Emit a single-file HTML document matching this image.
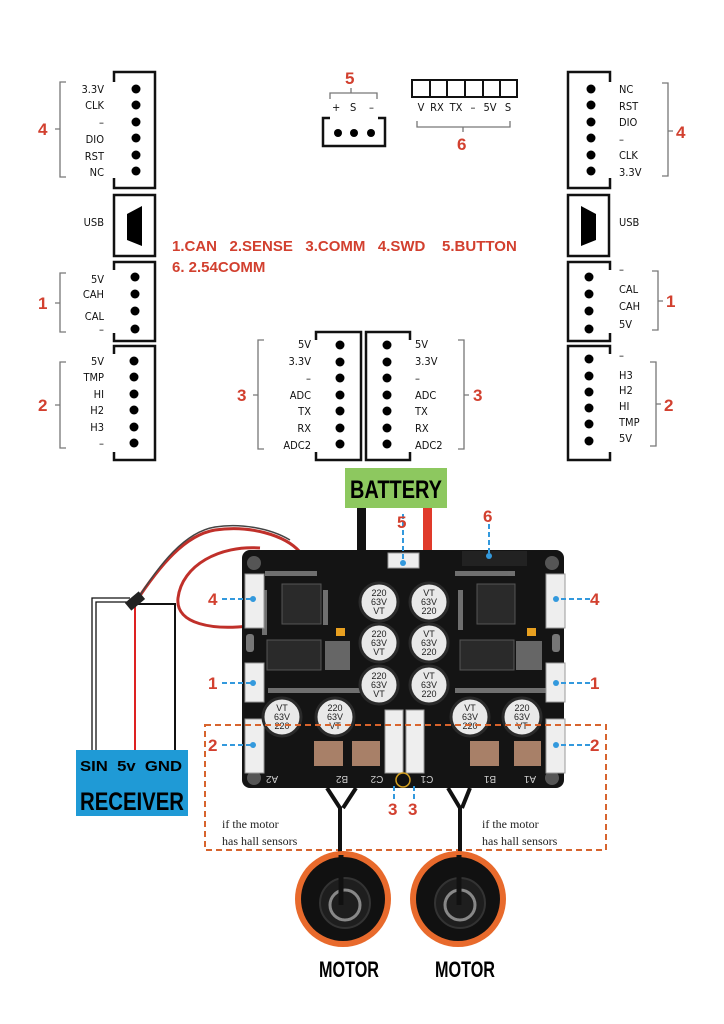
<!DOCTYPE html>
<html><head><meta charset="utf-8"><style>
body{margin:0;background:#fff}
svg{display:block}
.l{font-family:"DejaVu Sans Condensed","DejaVu Sans",sans-serif;font-size:11px;fill:#111}
.n{font-family:"Liberation Sans",sans-serif;font-weight:bold;font-size:17px;fill:#d2402f}
.t{font-family:"Liberation Sans",sans-serif;font-weight:bold;font-size:15px;fill:#d2402f}
.k{font-family:"Liberation Sans",sans-serif;font-weight:bold;fill:#000}
.bk{fill:none;stroke:#777;stroke-width:1.3}
.bx{fill:none;stroke:#111;stroke-width:2.5}
.cap{fill:#e9e9e9;stroke:#2a2a2a;stroke-width:3}
.ct{font-family:"Liberation Sans",sans-serif;font-size:9px;fill:#222}
.sk{font-family:"Liberation Sans",sans-serif;font-size:10px;fill:#ccc}
.bl{stroke:#3399dd;stroke-width:2;stroke-dasharray:5,3}
</style></head><body>
<svg width="724" height="1024" viewBox="0 0 724 1024" xmlns="http://www.w3.org/2000/svg">
<!-- LEFT connector 4 -->
<path class="bx" d="M114,82V72H155V188H114V178"/>
<g fill="#000"><circle cx="136" cy="89" r="4.5"/><circle cx="136" cy="105" r="4.5"/><circle cx="136" cy="122" r="4.5"/><circle cx="136" cy="138" r="4.5"/><circle cx="136" cy="155" r="4.5"/><circle cx="136" cy="171" r="4.5"/></g>
<g class="l" text-anchor="end"><text x="104" y="93">3.3V</text><text x="104" y="109">CLK</text><text x="104" y="126">–</text><text x="104" y="143">DIO</text><text x="104" y="160">RST</text><text x="104" y="176">NC</text></g>
<path class="bk" d="M66,82H60V177H66M60,129H55"/><text class="n" x="38" y="135">4</text>
<!-- USB -->
<rect class="bx" x="114" y="195" width="41" height="61"/><path d="M127,214L142,206V246L127,240Z" fill="#000"/>
<text class="l" x="104" y="226" text-anchor="end">USB</text>
<!-- LEFT 1 -->
<path class="bx" d="M114,270V262H155V341H114V333"/>
<g fill="#000"><circle cx="135" cy="277" r="4.5"/><circle cx="135" cy="294" r="4.5"/><circle cx="135" cy="311" r="4.5"/><circle cx="135" cy="329" r="4.5"/></g>
<g class="l" text-anchor="end"><text x="104" y="283">5V</text><text x="104" y="298">CAH</text><text x="104" y="320">CAL</text><text x="104" y="333">–</text></g>
<path class="bk" d="M66,273H60V332H66M60,303H55"/><text class="n" x="38" y="309">1</text>
<!-- LEFT 2 -->
<path class="bx" d="M114,354V346H155V460H114V452"/>
<g fill="#000"><circle cx="134" cy="361" r="4.5"/><circle cx="134" cy="377" r="4.5"/><circle cx="134" cy="394" r="4.5"/><circle cx="134" cy="410" r="4.5"/><circle cx="134" cy="427" r="4.5"/><circle cx="134" cy="443" r="4.5"/></g>
<g class="l" text-anchor="end"><text x="104" y="365">5V</text><text x="104" y="381">TMP</text><text x="104" y="398">HI</text><text x="104" y="414">H2</text><text x="104" y="431">H3</text><text x="104" y="447">–</text></g>
<path class="bk" d="M66,362H60V448H66M60,405H55"/><text class="n" x="38" y="411">2</text>
<!-- Center 3 left -->
<path class="bx" d="M316,340V332H361V460H316V452"/>
<g fill="#000"><circle cx="340" cy="345" r="4.5"/><circle cx="340" cy="362" r="4.5"/><circle cx="340" cy="378" r="4.5"/><circle cx="340" cy="395" r="4.5"/><circle cx="340" cy="411" r="4.5"/><circle cx="340" cy="428" r="4.5"/><circle cx="340" cy="444" r="4.5"/></g>
<g class="l" text-anchor="end"><text x="311" y="348">5V</text><text x="311" y="365">3.3V</text><text x="311" y="382">–</text><text x="311" y="399">ADC</text><text x="311" y="415">TX</text><text x="311" y="432">RX</text><text x="311" y="449">ADC2</text></g>
<path class="bk" d="M264,340H258V449H264M258,395H253"/><text class="n" x="237" y="401">3</text>
<!-- Center 3 right -->
<path class="bx" d="M410,340V332H366V460H410V452"/>
<g fill="#000"><circle cx="387" cy="345" r="4.5"/><circle cx="387" cy="362" r="4.5"/><circle cx="387" cy="378" r="4.5"/><circle cx="387" cy="395" r="4.5"/><circle cx="387" cy="411" r="4.5"/><circle cx="387" cy="428" r="4.5"/><circle cx="387" cy="444" r="4.5"/></g>
<g class="l"><text x="415" y="348">5V</text><text x="415" y="365">3.3V</text><text x="415" y="382">–</text><text x="415" y="399">ADC</text><text x="415" y="415">TX</text><text x="415" y="432">RX</text><text x="415" y="449">ADC2</text></g>
<path class="bk" d="M458,340H464V449H458M464,395H469"/><text class="n" x="473" y="401">3</text>
<!-- RIGHT 4 -->
<path class="bx" d="M610,82V72H568V188H610V178"/>
<g fill="#000"><circle cx="591" cy="89" r="4.5"/><circle cx="591" cy="105" r="4.5"/><circle cx="591" cy="122" r="4.5"/><circle cx="591" cy="138" r="4.5"/><circle cx="591" cy="155" r="4.5"/><circle cx="591" cy="171" r="4.5"/></g>
<g class="l"><text x="619" y="93">NC</text><text x="619" y="110">RST</text><text x="619" y="126">DIO</text><text x="619" y="143">–</text><text x="619" y="159">CLK</text><text x="619" y="176">3.3V</text></g>
<path class="bk" d="M662,83H668V176H662M668,131H673"/><text class="n" x="676" y="138">4</text>
<rect class="bx" x="568" y="195" width="41" height="61"/><path d="M581,206L596,214V240L581,246Z" fill="#000"/>
<text class="l" x="619" y="226">USB</text>
<!-- RIGHT 1 -->
<path class="bx" d="M610,270V262H568V341H610V333"/>
<g fill="#000"><circle cx="589" cy="277" r="4.5"/><circle cx="589" cy="294" r="4.5"/><circle cx="589" cy="311" r="4.5"/><circle cx="589" cy="329" r="4.5"/></g>
<g class="l"><text x="619" y="273">–</text><text x="619" y="293">CAL</text><text x="619" y="310">CAH</text><text x="619" y="328">5V</text></g>
<path class="bk" d="M652,271H658V330H652M658,301H663"/><text class="n" x="666" y="307">1</text>
<!-- RIGHT 2 -->
<path class="bx" d="M610,354V346H568V460H610V452"/>
<g fill="#000"><circle cx="589" cy="359" r="4.5"/><circle cx="589" cy="376" r="4.5"/><circle cx="589" cy="392" r="4.5"/><circle cx="589" cy="408" r="4.5"/><circle cx="589" cy="424" r="4.5"/><circle cx="589" cy="441" r="4.5"/></g>
<g class="l"><text x="619" y="359">–</text><text x="619" y="379">H3</text><text x="619" y="394">H2</text><text x="619" y="410">HI</text><text x="619" y="426">TMP</text><text x="619" y="442">5V</text></g>
<path class="bk" d="M650,362H656V446H650M656,404H661"/><text class="n" x="664" y="411">2</text>
<!-- 5 -->
<text class="n" x="345" y="84">5</text><path class="bk" d="M330,99V93H377V99M351,93V88"/>
<g class="l"><text x="332" y="111">+</text><text x="350" y="111">S</text><text x="369" y="111">–</text></g>
<path class="bx" d="M330,118H323V146H385V118H378"/>
<g fill="#000"><circle cx="338" cy="133" r="4"/><circle cx="354" cy="133" r="4"/><circle cx="371" cy="133" r="4"/></g>
<!-- 6 -->
<g class="bx" style="stroke-width:2"><rect x="412" y="80" width="105" height="17"/><path d="M430,80V97M447,80V97M465,80V97M483,80V97M500,80V97"/></g>
<g class="l" text-anchor="middle"><text x="421" y="111">V</text><text x="437" y="111">RX</text><text x="456" y="111">TX</text><text x="473" y="111">–</text><text x="490" y="111">5V</text><text x="508" y="111">S</text></g>
<path class="bk" d="M417,121V127H510V121M463,127V132"/><text class="n" x="457" y="150">6</text>
<!-- legend -->
<text class="t" x="172" y="251">1.CAN&#160;&#160;&#160;2.SENSE&#160;&#160;&#160;3.COMM&#160;&#160;&#160;4.SWD&#160;&#160;&#160;&#160;5.BUTTON</text>
<text class="t" x="172" y="272">6. 2.54COMM</text>
<!-- battery -->
<rect x="345" y="468" width="102" height="40" fill="#8dc85f"/>
<text class="k" x="396" y="498" text-anchor="middle" font-size="25" textLength="92" lengthAdjust="spacingAndGlyphs">BATTERY</text>
<rect x="357" y="508" width="9" height="45" fill="#111"/><rect x="423" y="508" width="9" height="45" fill="#e03a2a"/>
<!-- receiver wires -->
<path d="M135,603C160,565 185,535 215,530C250,525 285,535 300,552" fill="none" stroke="#c0302a" stroke-width="3"/>
<path d="M135,603C160,563 185,532 215,527C240,523 270,528 290,540" fill="none" stroke="#444" stroke-width="1.5"/>
<path d="M248,626C215,630 175,625 178,598C182,565 220,545 260,548" fill="none" stroke="#c0302a" stroke-width="3"/>
<path d="M92,752V598H130M96,752V602H130" fill="none" stroke="#111" stroke-width="1.3"/>
<path d="M138,604H175V752" fill="none" stroke="#111" stroke-width="2"/>
<path d="M135,606V752" stroke="#d22" stroke-width="2"/>
<rect x="126" y="596" width="18" height="10" fill="#222" transform="rotate(-40 135 601)"/>
<rect x="76" y="750" width="112" height="66" fill="#1f9ad6"/>
<text class="k" x="80" y="771" font-size="15" textLength="102" lengthAdjust="spacingAndGlyphs">SIN&#160;&#160;5v&#160;&#160;GND</text>
<text class="k" x="80" y="810" font-size="25" textLength="104" lengthAdjust="spacingAndGlyphs">RECEIVER</text>
<!-- board -->
<rect x="242" y="550" width="322" height="238" rx="8" fill="#141414"/>
<g fill="#555"><circle cx="254" cy="563" r="7"/><circle cx="552" cy="563" r="7"/><circle cx="254" cy="778" r="7"/><circle cx="552" cy="778" r="7"/></g>
<g fill="#bbb" opacity="0.55"><rect x="265" y="571" width="52" height="5"/><rect x="455" y="571" width="60" height="5"/><rect x="268" y="688" width="110" height="5"/><rect x="455" y="688" width="95" height="5"/><rect x="262" y="590" width="5" height="45"/><rect x="323" y="590" width="5" height="35"/><rect x="458" y="590" width="5" height="40"/></g>
<g fill="#eee" stroke="#999"><rect x="245" y="574" width="19" height="54"/><rect x="245" y="663" width="19" height="39"/><rect x="245" y="719" width="19" height="54"/>
<rect x="546" y="574" width="19" height="54"/><rect x="546" y="663" width="19" height="39"/><rect x="546" y="719" width="19" height="54"/>
<rect x="388" y="553" width="31" height="15"/><rect x="385" y="710" width="18" height="63"/><rect x="406" y="710" width="18" height="63"/></g>
<g fill="#777"><rect x="246" y="634" width="8" height="18" rx="3"/><rect x="552" y="634" width="8" height="18" rx="3"/></g>
<rect x="462" y="551" width="65" height="15" fill="#222"/>
<g fill="#2a2a2a" stroke="#555"><rect x="282" y="584" width="39" height="40"/><rect x="477" y="584" width="38" height="40"/><rect x="267" y="640" width="54" height="30"/><rect x="460" y="640" width="54" height="30"/></g>
<g fill="#666"><rect x="325" y="641" width="25" height="29"/><rect x="516" y="641" width="26" height="29"/></g>
<g fill="#e8a020"><rect x="336" y="628" width="9" height="8"/><rect x="527" y="628" width="9" height="8"/></g>
<g fill="#a88068"><rect x="314" y="741" width="29" height="25"/><rect x="352" y="741" width="28" height="25"/><rect x="470" y="741" width="29" height="25"/><rect x="514" y="741" width="27" height="25"/></g>
<g class="cap"><circle cx="379" cy="602" r="19"/><circle cx="429" cy="602" r="19"/><circle cx="379" cy="643" r="19"/><circle cx="429" cy="643" r="19"/><circle cx="379" cy="685" r="19"/><circle cx="429" cy="685" r="19"/><circle cx="282" cy="717" r="19"/><circle cx="335" cy="717" r="19"/><circle cx="470" cy="717" r="19"/><circle cx="522" cy="717" r="19"/></g>
<g class="ct" text-anchor="middle"><text x="379" y="596">220</text><text x="379" y="605">63V</text><text x="379" y="614">VT</text><text x="429" y="596">VT</text><text x="429" y="605">63V</text><text x="429" y="614">220</text><text x="379" y="637">220</text><text x="379" y="646">63V</text><text x="379" y="655">VT</text><text x="429" y="637">VT</text><text x="429" y="646">63V</text><text x="429" y="655">220</text><text x="379" y="679">220</text><text x="379" y="688">63V</text><text x="379" y="697">VT</text><text x="429" y="679">VT</text><text x="429" y="688">63V</text><text x="429" y="697">220</text><text x="282" y="711">VT</text><text x="282" y="720">63V</text><text x="282" y="729">220</text><text x="335" y="711">220</text><text x="335" y="720">63V</text><text x="335" y="729">VT</text><text x="470" y="711">VT</text><text x="470" y="720">63V</text><text x="470" y="729">220</text><text x="522" y="711">220</text><text x="522" y="720">63V</text><text x="522" y="729">VT</text></g>
<g class="sk" text-anchor="middle"><text x="272" y="784" transform="rotate(180 272 780)">A2</text><text x="342" y="784" transform="rotate(180 342 780)">B2</text><text x="377" y="784" transform="rotate(180 377 780)">C2</text><text x="427" y="784" transform="rotate(180 427 780)">C1</text><text x="490" y="784" transform="rotate(180 490 780)">B1</text><text x="530" y="784" transform="rotate(180 530 780)">A1</text></g>
<circle cx="403" cy="780" r="7" fill="#111" stroke="#d4a020" stroke-width="1.5"/>
<!-- callouts -->
<g class="bl"><path d="M222,599H252M222,683H252M222,745H252M590,599H558M590,683H558M590,745H558M403,514V562M489,524V556M394,786V800M414,786V800"/></g>
<g fill="#3399dd"><circle cx="253" cy="599" r="3"/><circle cx="253" cy="683" r="3"/><circle cx="253" cy="745" r="3"/><circle cx="556" cy="599" r="3"/><circle cx="556" cy="683" r="3"/><circle cx="556" cy="745" r="3"/><circle cx="403" cy="563" r="3"/><circle cx="489" cy="556" r="3"/></g>
<g class="n"><text x="208" y="605">4</text><text x="208" y="689">1</text><text x="208" y="751">2</text><text x="590" y="605">4</text><text x="590" y="689">1</text><text x="590" y="751">2</text><text x="397" y="528">5</text><text x="483" y="522">6</text><text x="388" y="815">3</text><text x="408" y="815">3</text></g>
<!-- dashed region -->
<rect x="205" y="725" width="401" height="125" fill="none" stroke="#d7642e" stroke-width="2" stroke-dasharray="6,4"/>
<g font-family="Liberation Serif,serif" font-size="12" fill="#222"><text x="222" y="828">if the motor</text><text x="222" y="845">has hall sensors</text><text x="482" y="828">if the motor</text><text x="482" y="845">has hall sensors</text></g>
<!-- motor wires -->
<g stroke="#111" stroke-width="4" fill="none"><path d="M327,788L340,808V890M356,788L343,808"/><path d="M448,788L460,808V890M470,788L462,808"/></g>
<!-- motors -->
<circle cx="343" cy="899" r="48" fill="#e86a2c"/><circle cx="343" cy="899" r="42" fill="#111"/><circle cx="345" cy="903" r="25" fill="#1e1e1e" stroke="#333" stroke-width="2"/><circle cx="345" cy="905" r="15" fill="none" stroke="#888" stroke-width="3"/>
<circle cx="458" cy="899" r="48" fill="#e86a2c"/><circle cx="458" cy="899" r="42" fill="#111"/><circle cx="460" cy="903" r="25" fill="#1e1e1e" stroke="#333" stroke-width="2"/><circle cx="460" cy="905" r="15" fill="none" stroke="#888" stroke-width="3"/>
<g stroke="#111" stroke-width="5"><path d="M341,855V905M459,855V905"/></g>
<text class="k" x="349" y="977" font-size="22" text-anchor="middle" textLength="60" lengthAdjust="spacingAndGlyphs">MOTOR</text>
<text class="k" x="465" y="977" font-size="22" text-anchor="middle" textLength="60" lengthAdjust="spacingAndGlyphs">MOTOR</text>
</svg>
</body></html>
